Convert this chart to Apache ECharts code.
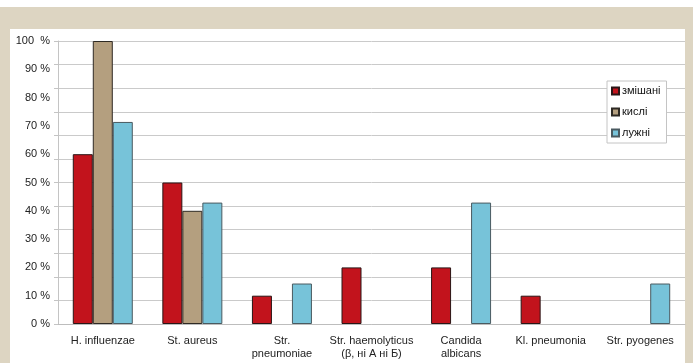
<!DOCTYPE html>
<html>
<head>
<meta charset="utf-8">
<script src="https://cdn.jsdelivr.net/npm/echarts@6/dist/echarts.min.js"></script>
<style>
  body { margin: 0; background: #fff; }
  #bg { position: absolute; left: 0; top: 7px; width: 693px; height: 356px; background: #ddd5c2; }
  #panel { position: absolute; left: 10px; top: 29px; width: 675px; height: 334px; background: #fff; }
  #table { position: absolute; left: 0; top: 0; width: 693px; height: 363px; }
</style>
</head>
<body>
<div id="bg"></div>
<div id="panel"></div>
<div id="table"></div>
<script>
// categories and values (%)
let categories = ['H. influenzae', 'St. aureus', 'Str.\npneumoniae', 'Str. haemolyticus\n(β, ні А ні Б)', 'Candida\nalbicans', 'Kl. pneumonia', 'Str. pyogenes'];
let mixed = [60, 50, 10, 20, 20, 10, 0];      // змішані
let acid = [100, 40, 0, 0, 0, 0, 0];          // кислі
let alkaline = [71.4, 42.9, 14.3, 0, 42.9, 0, 14.3]; // лужні
let yLabels = ['0 %', '10 %', '20 %', '30 %', '40 %', '50 %', '60 %', '70 %', '80 %', '90 %', '100  %'];

function initTable() {
    let myChart = echarts.init(document.getElementById('table'));
    let font = 'Liberation Sans, Arial, sans-serif';
    let mk = function (name, data, color, border) {
        return {
            name: name,
            type: 'bar',
            yAxisIndex: 0,
            barWidth: 20,
            barGap: 0,
            data: data.map(v => v || null),
            itemStyle: { color: color, borderColor: border, borderWidth: 1 }
        };
    };
    let option = {
        backgroundColor: 'transparent',
        animation: false,
        textStyle: { fontFamily: font },
        grid: { left: 58, right: 8, top: 41, bottom: 39 },
        legend: {
            orient: 'vertical',
            left: 607,
            top: 81,
            padding: [4, 6, 4, 4],
            itemGap: 9,
            itemWidth: 7,
            itemHeight: 7,
            icon: 'rect',
            backgroundColor: '#fff',
            borderColor: '#c4c4c4',
            borderWidth: 1,
            textStyle: { fontSize: 11, color: '#111', lineHeight: 12, fontFamily: font, padding: [0, 0, 0, -2] },
            data: ['змішані', 'кислі', 'лужні']
        },
        xAxis: {
            type: 'category',
            data: categories,
            axisLine: { lineStyle: { color: '#bdbdbd' } },
            axisTick: { length: 3, lineStyle: { color: '#bdbdbd' } },
            axisLabel: { fontSize: 11, color: '#222', margin: 10, lineHeight: 13, interval: 0 }
        },
        yAxis: [
            {
                type: 'value',
                min: 0,
                max: 100,
                interval: 10,
                position: 'left',
                axisLine: { show: false },
                axisTick: { show: false },
                splitLine: { show: false },
                axisLabel: {
                    fontSize: 11, color: '#222', margin: 8,
                    formatter: function (v) { return yLabels[Math.round(v / 10)]; }
                }
            },
            {
                type: 'value',
                min: 0,
                max: 12,
                interval: 1,
                position: 'left',
                alignTicks: false,
                axisLabel: { show: false },
                axisLine: { show: true, lineStyle: { color: '#c4c4c4' } },
                axisTick: { show: true, length: 4, lineStyle: { color: '#c4c4c4' } },
                splitLine: { lineStyle: { color: '#cacaca' } }
            }
        ],
        series: [
            mk('змішані', mixed, '#c2131c', '#2a1616'),
            mk('кислі', acid, '#b49f7f', '#2e2a24'),
            mk('лужні', alkaline, '#77c3d9', '#4a5a60')
        ]
    };
    window.onresize = function () {
        myChart.resize();
    };
    return { myChart, option };
}

let t = initTable();
t.myChart.setOption(t.option);
</script>
</body>
</html>
